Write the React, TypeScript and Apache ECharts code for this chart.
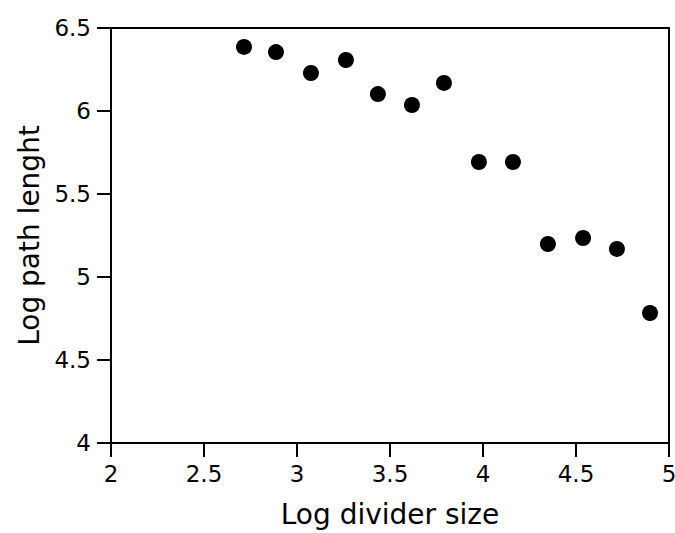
import React, { useEffect, useRef } from "react";
import * as echarts from "echarts";

// Log divider size vs. log path length (divider / ruler method)
const logDividerSize = [2.715, 2.887, 3.075, 3.263, 3.435, 3.618, 3.79, 3.978, 4.161, 4.349, 4.538, 4.72, 4.898];
const logPathLength = [6.386, 6.355, 6.229, 6.307, 6.102, 6.036, 6.169, 5.693, 5.693, 5.199, 5.235, 5.169, 4.783];

const xRange = [2, 5];
const yRange = [4, 6.5];
const tickStep = 0.5;

const FONT = "DejaVu Sans";

export default function App() {
  const ref = useRef<HTMLDivElement>(null);

  useEffect(() => {
    document.body.style.margin = "0";
    if (!ref.current) return;
    const chart = echarts.init(ref.current, undefined, { renderer: "svg" });
    const points = logDividerSize.map((x, i) => [x, logPathLength[i]]);
    const axisLine = { show: true, lineStyle: { color: "#000", width: 2 } };
    const axisTick = { show: true, length: 14, lineStyle: { color: "#000", width: 2 } };

    chart.setOption({
      animation: false,
      backgroundColor: "#fff",
      grid: {
        left: 111,
        right: 6,
        top: 28,
        bottom: 90,
        show: true,
        borderColor: "#000",
        borderWidth: 2,
        containLabel: false,
        outerBoundsMode: "none",
      },
      xAxis: {
        type: "value",
        min: xRange[0],
        max: xRange[1],
        interval: tickStep,
        name: "Log divider size",
        nameLocation: "middle",
        nameGap: 57,
        nameTextStyle: { fontFamily: FONT, fontSize: 28, color: "#000" },
        axisLine,
        axisTick,
        splitLine: { show: false },
        axisLabel: { fontFamily: FONT, fontSize: 23, color: "#000", margin: 19 },
      },
      yAxis: {
        type: "value",
        min: yRange[0],
        max: yRange[1],
        interval: tickStep,
        name: "Log path lenght",
        nameLocation: "middle",
        nameGap: 68,
        nameTextStyle: { fontFamily: FONT, fontSize: 28, color: "#000" },
        axisLine,
        axisTick,
        splitLine: { show: false },
        axisLabel: { fontFamily: FONT, fontSize: 23, color: "#000", margin: 20 },
      },
      series: [
        {
          type: "scatter",
          data: points,
          symbol: "circle",
          symbolSize: 16,
          itemStyle: { color: "#000", opacity: 1 },
        },
      ],
    });

    return () => chart.dispose();
  }, []);

  return <div ref={ref} style={{ width: 675, height: 533 }} />;
}
